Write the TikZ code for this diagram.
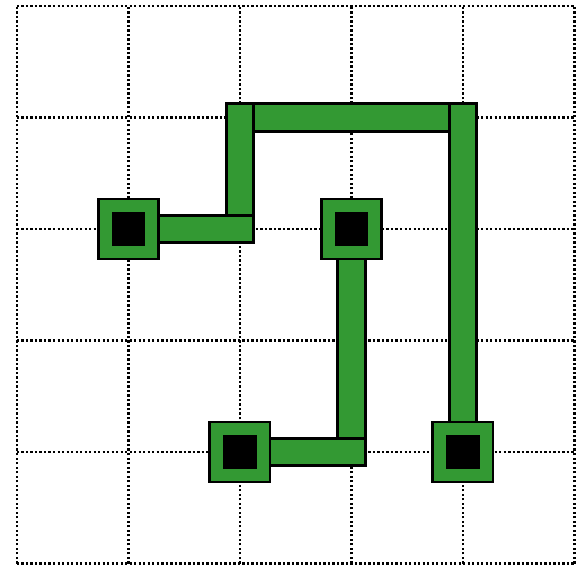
\documentclass[tikz,border=0pt]{standalone}
\usetikzlibrary{backgrounds}
\definecolor{padgreen}{RGB}{51,153,51}
\begin{document}
\begin{tikzpicture}[x=2cm,y=2cm,
  pad/.style={draw,line width=1.4pt,fill=padgreen,minimum size=1.08cm,inner sep=0pt,
    path picture={\fill[black] ([shift={(-0.3cm,-0.3cm)}]path picture bounding box.center)
      rectangle ([shift={(0.3cm,0.3cm)}]path picture bounding box.center);}},
  wire/.style={line width=1.4pt,double=padgreen,double distance=12.6pt,line cap=rect},
  dots/.style={line width=1.4pt,dash pattern=on 1.2pt off 1.1pt}]
\useasboundingbox (-0.152,-0.027) rectangle (5.023,5.054);
\node[pad] (p1) at (1,3) {};
\node[pad] (p2) at (3,3) {};
\node[pad] (p3) at (2,1) {};
\node[pad] (p4) at (4,1) {};
\coordinate (b1) at (2,3);
\coordinate (b2) at (2,4);
\coordinate (b3) at (4,4);
\coordinate (b4) at (3,1);
\begin{scope}[on background layer]
\draw[dots] (0,0) grid[step=2cm] (5,5);
\draw[wire] (b2) -- (b3);
\draw[wire] (b1) -- (b2);
\draw[wire] (p1) -- (b1);
\draw[wire] (b3) -- (p4);
\draw[wire] (p2) -- (b4);
\draw[wire] (p3) -- (b4);
\end{scope}
\end{tikzpicture}
\end{document}
